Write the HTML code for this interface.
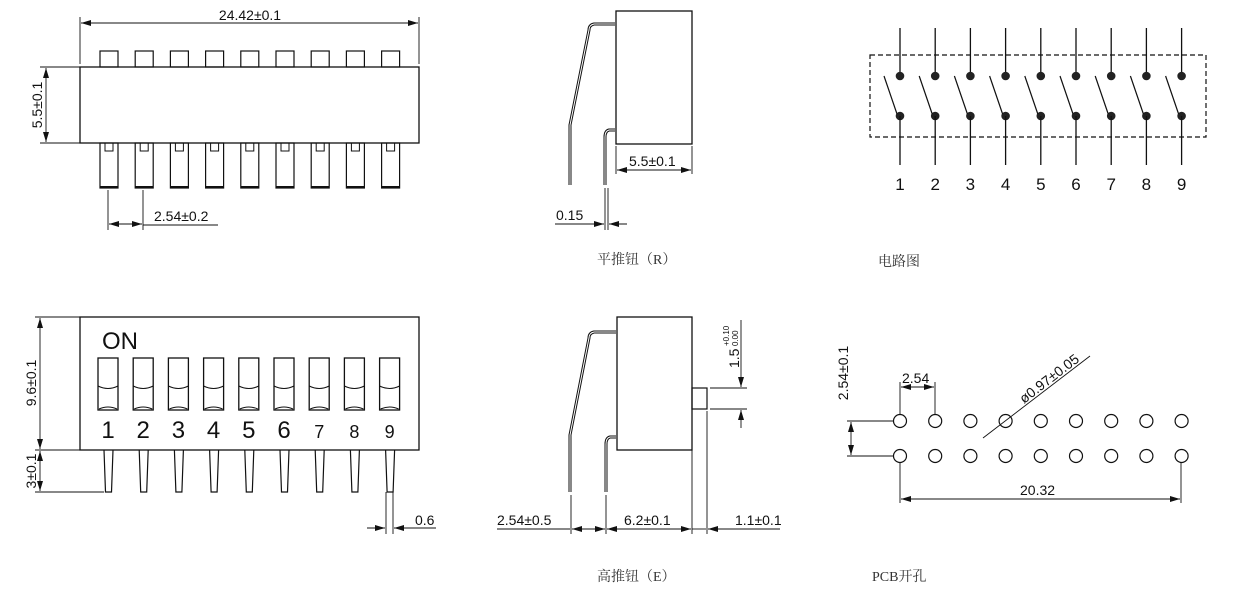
<!DOCTYPE html>
<html><head><meta charset="utf-8"><style>
html,body{margin:0;padding:0;background:#fff;}
svg{display:block}
text{font-family:"Liberation Sans","Noto Sans CJK SC",sans-serif;fill:#111}
.cap{font-family:"Liberation Serif","Noto Serif CJK SC",serif;font-size:14px;fill:#333}
</style></head><body>
<svg width="1236" height="596" viewBox="0 0 1236 596" xmlns="http://www.w3.org/2000/svg">
<defs>
<marker id="a" viewBox="0 0 10 6" refX="10" refY="3" markerWidth="10" markerHeight="6" orient="auto-start-reverse" markerUnits="userSpaceOnUse"><path d="M0,0 L10,3 L0,6 z" fill="#111"/></marker>
<g id="tab"><rect x="100" y="51" width="18" height="16" fill="none" stroke="#111" stroke-width="1.2"/></g>
<g id="pin"><rect x="100" y="143" width="18" height="45" fill="none" stroke="#111" stroke-width="1.2"/><rect x="105" y="143" width="8" height="8" fill="none" stroke="#111" stroke-width="1"/><line x1="100" y1="187" x2="118" y2="187" stroke="#111" stroke-width="2"/></g>
<g id="slot"><rect x="98" y="358" width="20" height="52" fill="none" stroke="#111" stroke-width="1.3"/><path d="M98,386 Q108,391 118,386" fill="none" stroke="#111" stroke-width="1.1"/><path d="M99,409 Q108,405 117,409" fill="none" stroke="#111" stroke-width="1"/></g>
<g id="lpin"><path d="M104,450 L105.5,492 L111.5,492 L113,450" fill="none" stroke="#111" stroke-width="1.2"/></g>
<g id="sw"><line x1="900" y1="28" x2="900" y2="76" stroke="#111" stroke-width="1.3"/><circle cx="900" cy="76" r="4.3" fill="#222"/><circle cx="900" cy="116" r="4.3" fill="#222"/><line x1="900" y1="116" x2="900" y2="165" stroke="#111" stroke-width="1.3"/><line x1="884" y1="76" x2="897" y2="114" stroke="#111" stroke-width="1.2"/></g>
<g id="h2"><circle cx="900" cy="421" r="6.5" fill="none" stroke="#111" stroke-width="1.2"/><circle cx="900" cy="456" r="6.5" fill="none" stroke="#111" stroke-width="1.2"/></g>
</defs>
<g stroke="#111" fill="none">
<rect x="80" y="67" width="339" height="76" stroke-width="1.3"/>
<line x1="80" y1="17" x2="80" y2="64" stroke-width="0.9"/>
<line x1="419" y1="17" x2="419" y2="64" stroke-width="0.9"/>
<line x1="81" y1="23" x2="418" y2="23" stroke-width="0.9" marker-start="url(#a)" marker-end="url(#a)"/>
<line x1="40" y1="67" x2="80" y2="67" stroke-width="0.9"/>
<line x1="40" y1="143" x2="80" y2="143" stroke-width="0.9"/>
<line x1="46" y1="68" x2="46" y2="142" stroke-width="0.9" marker-start="url(#a)" marker-end="url(#a)"/>
<line x1="108" y1="190" x2="108" y2="230" stroke-width="0.9"/>
<line x1="143" y1="190" x2="143" y2="230" stroke-width="0.9"/>
<line x1="109" y1="224" x2="142" y2="224" stroke-width="0.9" marker-start="url(#a)" marker-end="url(#a)"/>
<line x1="143" y1="225" x2="218" y2="225" stroke-width="0.9"/>
<rect x="80" y="317" width="339" height="133" stroke-width="1.3"/>
<line x1="35" y1="317" x2="80" y2="317" stroke-width="0.9"/>
<line x1="35" y1="450" x2="80" y2="450" stroke-width="0.9"/>
<line x1="35" y1="492" x2="104" y2="492" stroke-width="0.9"/>
<line x1="40" y1="318" x2="40" y2="449" stroke-width="0.9" marker-start="url(#a)" marker-end="url(#a)"/>
<line x1="40" y1="451" x2="40" y2="491" stroke-width="0.9" marker-start="url(#a)" marker-end="url(#a)"/>
<line x1="386" y1="492" x2="386" y2="534" stroke-width="0.9"/>
<line x1="393" y1="492" x2="393" y2="534" stroke-width="0.9"/>
<line x1="367" y1="528" x2="385" y2="528" stroke-width="0.9" marker-end="url(#a)"/>
<line x1="436" y1="528" x2="394" y2="528" stroke-width="0.9" marker-end="url(#a)"/>
<rect x="616" y="11" width="76" height="133" stroke-width="1.3"/>
<path d="M615,24 L594,24 Q589,25 589,30 L570,125 L570,185" stroke-width="3"/>
<path d="M615,24 L594,24 Q589,25 589,30 L570,125 L570,185" stroke="#fff" stroke-width="1"/>
<path d="M615,130 L609,130 Q605,131 605,137 L605,185" stroke-width="3"/>
<path d="M615,130 L609,130 Q605,131 605,137 L605,185" stroke="#fff" stroke-width="1"/>
<line x1="605" y1="188" x2="605" y2="230" stroke-width="0.9"/>
<line x1="608" y1="188" x2="608" y2="230" stroke-width="0.9"/>
<line x1="555" y1="224" x2="604" y2="224" stroke-width="0.9" marker-end="url(#a)"/>
<line x1="627" y1="224" x2="609" y2="224" stroke-width="0.9" marker-end="url(#a)"/>
<line x1="616" y1="146" x2="616" y2="174" stroke-width="0.9"/>
<line x1="692" y1="146" x2="692" y2="174" stroke-width="0.9"/>
<line x1="617" y1="170" x2="691" y2="170" stroke-width="0.9" marker-start="url(#a)" marker-end="url(#a)"/>
<rect x="617" y="317" width="75" height="133" stroke-width="1.3"/>
<rect x="692" y="388" width="15" height="21" stroke-width="1.2"/>
<path d="M616,332 L594,332 Q589,333 589,338 L570,435 L570,492" stroke-width="3"/>
<path d="M616,332 L594,332 Q589,333 589,338 L570,435 L570,492" stroke="#fff" stroke-width="1"/>
<path d="M616,437 L610,437 Q606,438 606,444 L606,492" stroke-width="3"/>
<path d="M616,437 L610,437 Q606,438 606,444 L606,492" stroke="#fff" stroke-width="1"/>
<line x1="571" y1="495" x2="571" y2="534" stroke-width="0.9"/>
<line x1="606" y1="495" x2="606" y2="534" stroke-width="0.9"/>
<line x1="692" y1="450" x2="692" y2="534" stroke-width="0.9"/>
<line x1="707" y1="411" x2="707" y2="534" stroke-width="0.9"/>
<line x1="497" y1="529" x2="570" y2="529" stroke-width="0.9"/>
<line x1="572" y1="529" x2="605" y2="529" stroke-width="0.9" marker-start="url(#a)" marker-end="url(#a)"/>
<line x1="607" y1="529" x2="691" y2="529" stroke-width="0.9" marker-start="url(#a)" marker-end="url(#a)"/>
<line x1="692" y1="529" x2="706" y2="529" stroke-width="0.9"/>
<line x1="780" y1="529" x2="708" y2="529" stroke-width="0.9" marker-end="url(#a)"/>
<line x1="710" y1="388" x2="747" y2="388" stroke-width="0.9"/>
<line x1="710" y1="409" x2="747" y2="409" stroke-width="0.9"/>
<line x1="741" y1="320" x2="741" y2="387" stroke-width="0.9" marker-end="url(#a)"/>
<line x1="741" y1="428" x2="741" y2="410" stroke-width="0.9" marker-end="url(#a)"/>
<rect x="870" y="55" width="336" height="82" stroke-width="1.2" stroke-dasharray="5,3"/>
<line x1="847" y1="421" x2="893" y2="421" stroke-width="0.9"/>
<line x1="847" y1="456" x2="893" y2="456" stroke-width="0.9"/>
<line x1="851" y1="422" x2="851" y2="455" stroke-width="0.9" marker-start="url(#a)" marker-end="url(#a)"/>
<line x1="900" y1="382" x2="900" y2="415" stroke-width="0.9"/>
<line x1="935" y1="382" x2="935" y2="415" stroke-width="0.9"/>
<line x1="901" y1="387" x2="934" y2="387" stroke-width="0.9" marker-start="url(#a)" marker-end="url(#a)"/>
<line x1="983" y1="438" x2="1090" y2="356" stroke-width="0.9"/>
<line x1="900" y1="462" x2="900" y2="503" stroke-width="0.9"/>
<line x1="1181" y1="462" x2="1181" y2="503" stroke-width="0.9"/>
<line x1="901" y1="499" x2="1180" y2="499" stroke-width="0.9" marker-start="url(#a)" marker-end="url(#a)"/>
</g>
<g>
<use href="#tab"/><use href="#tab" x="35.2"/><use href="#tab" x="70.4"/><use href="#tab" x="105.6"/><use href="#tab" x="140.8"/><use href="#tab" x="176"/><use href="#tab" x="211.2"/><use href="#tab" x="246.4"/><use href="#tab" x="281.6"/>
<use href="#pin"/><use href="#pin" x="35.2"/><use href="#pin" x="70.4"/><use href="#pin" x="105.6"/><use href="#pin" x="140.8"/><use href="#pin" x="176"/><use href="#pin" x="211.2"/><use href="#pin" x="246.4"/><use href="#pin" x="281.6"/>
<use href="#slot"/><use href="#slot" x="35.2"/><use href="#slot" x="70.4"/><use href="#slot" x="105.6"/><use href="#slot" x="140.8"/><use href="#slot" x="176"/><use href="#slot" x="211.2"/><use href="#slot" x="246.4"/><use href="#slot" x="281.6"/>
<use href="#lpin"/><use href="#lpin" x="35.2"/><use href="#lpin" x="70.4"/><use href="#lpin" x="105.6"/><use href="#lpin" x="140.8"/><use href="#lpin" x="176"/><use href="#lpin" x="211.2"/><use href="#lpin" x="246.4"/><use href="#lpin" x="281.6"/>
<use href="#sw"/><use href="#sw" x="35.2"/><use href="#sw" x="70.4"/><use href="#sw" x="105.6"/><use href="#sw" x="140.8"/><use href="#sw" x="176"/><use href="#sw" x="211.2"/><use href="#sw" x="246.4"/><use href="#sw" x="281.6"/>
<use href="#h2"/><use href="#h2" x="35.2"/><use href="#h2" x="70.4"/><use href="#h2" x="105.6"/><use href="#h2" x="140.8"/><use href="#h2" x="176"/><use href="#h2" x="211.2"/><use href="#h2" x="246.4"/><use href="#h2" x="281.6"/>
</g>
<g font-size="14">
<text x="250" y="20" text-anchor="middle">24.42±0.1</text>
<text transform="translate(42,105) rotate(-90)" text-anchor="middle">5.5±0.1</text>
<text x="154" y="221">2.54±0.2</text>
<text transform="translate(36,383) rotate(-90)" text-anchor="middle">9.6±0.1</text>
<text transform="translate(36,471) rotate(-90)" text-anchor="middle">3±0.1</text>
<text x="415" y="525">0.6</text>
<text x="556" y="220">0.15</text>
<text x="629" y="166">5.5±0.1</text>
<text x="497" y="525">2.54±0.5</text>
<text x="624" y="525">6.2±0.1</text>
<text x="735" y="525">1.1±0.1</text>
<text transform="translate(739,368) rotate(-90)">1.5</text>
<text transform="translate(729,346) rotate(-90)" font-size="8">+0.10</text>
<text transform="translate(738,346) rotate(-90)" font-size="8">0.00</text>
<text transform="translate(848,373) rotate(-90)" text-anchor="middle">2.54±0.1</text>
<text x="902" y="383">2.54</text>
<text x="1020" y="495">20.32</text>
<text transform="translate(1024,404) rotate(-37.5)">ø0.97±0.05</text>
</g>
<text x="102" y="349" font-size="24">ON</text>
<g font-size="24" text-anchor="middle">
<text x="108" y="438">1</text><text x="143.2" y="438">2</text><text x="178.4" y="438">3</text><text x="213.6" y="438">4</text><text x="248.8" y="438">5</text><text x="284" y="438">6</text>
</g>
<g font-size="18" text-anchor="middle">
<text x="319.2" y="438">7</text><text x="354.4" y="438">8</text><text x="389.6" y="438">9</text>
</g>
<g font-size="17" text-anchor="middle" style="font-family:'DejaVu Sans Condensed','DejaVu Sans',sans-serif;font-stretch:condensed">
<text x="900" y="190">1</text><text x="935.2" y="190">2</text><text x="970.4" y="190">3</text><text x="1005.6" y="190">4</text><text x="1040.8" y="190">5</text><text x="1076" y="190">6</text><text x="1111.2" y="190">7</text><text x="1146.4" y="190">8</text><text x="1181.6" y="190">9</text>
</g>
<text class="cap" x="597" y="264">平推钮（R）</text>
<text class="cap" x="597" y="581">高推钮（E）</text>
<text class="cap" x="878" y="266">电路图</text>
<text class="cap" x="872" y="581">PCB开孔</text>
</svg>
</body></html>
